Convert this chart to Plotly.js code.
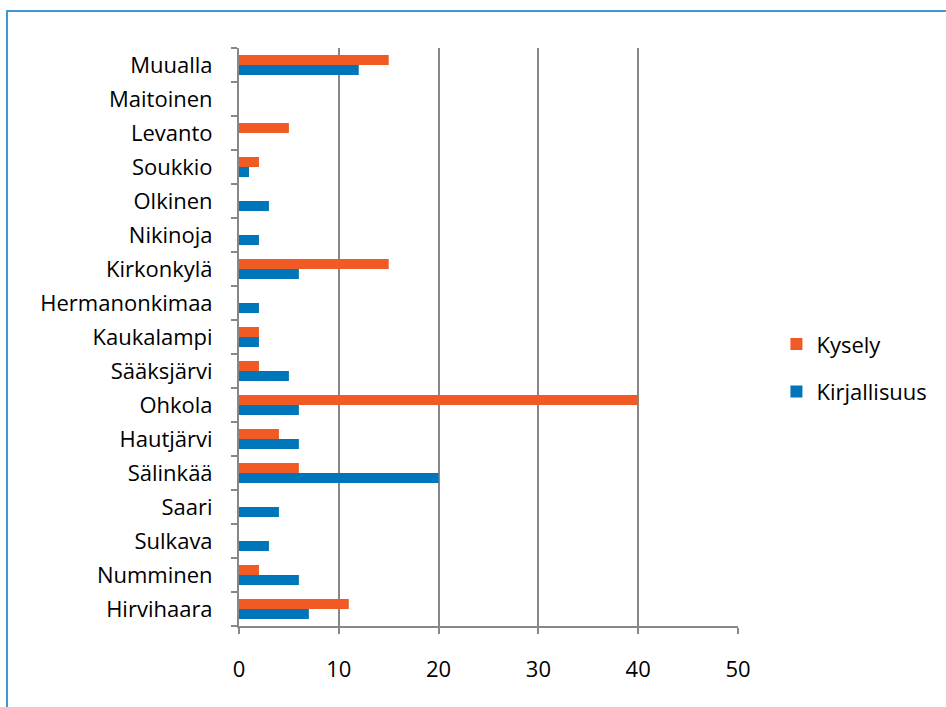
<!DOCTYPE html>
<html>
<head>
<meta charset="utf-8">
<script src="https://cdn.plot.ly/plotly-3.0.1.min.js"></script>
<style>
  html, body { margin: 0; padding: 0; background: #fff; }
  #wrap { position: relative; width: 946px; height: 707px; }
  #chart { position: absolute; left: 0; top: 0; width: 946px; height: 707px; }
  #frame { position: absolute; left: 6px; top: 10px; width: 960px; height: 720px;
           border-top: 2px solid #3d98d3; border-left: 2px solid #3d98d3; pointer-events: none; }
</style>
</head>
<body>
<div id="wrap">
  <div id="chart"></div>
  <div id="frame"></div>
</div>
<script>
const categories = ["Hirvihaara", "Numminen", "Sulkava", "Saari", "Sälinkää", "Hautjärvi", "Ohkola",
  "Sääksjärvi", "Kaukalampi", "Hermanonkimaa", "Kirkonkylä", "Nikinoja", "Olkinen", "Soukkio",
  "Levanto", "Maitoinen", "Muualla"];
const kysely =       [11, 2, 0, 0, 6, 4, 40, 2, 2, 0, 15, 0, 0, 2, 5, 0, 15];
const kirjallisuus = [7, 6, 3, 4, 20, 6, 6, 5, 2, 2, 6, 2, 3, 1, 0, 0, 12];
const xTicks = [0, 10, 20, 30, 40, 50];

const fontFam = "'Open Sans', Lato, sans-serif";

const traces = [
  { type: 'bar', orientation: 'h', name: 'Kirjallisuus', y: categories, x: kirjallisuus,
    marker: { color: '#0076ba' }, legendgroup: 'b', legendrank: 2, hoverinfo: 'x+y' },
  { type: 'bar', orientation: 'h', name: 'Kysely', y: categories, x: kysely,
    marker: { color: '#f15a24' }, legendgroup: 'a', legendrank: 1, hoverinfo: 'x+y' }
];

const layout = {
  width: 946, height: 707,
  margin: { l: 239, r: 208, t: 48, b: 81, pad: 0 },
  paper_bgcolor: '#ffffff', plot_bgcolor: '#ffffff',
  barmode: 'group', bargap: 0.41, bargroupgap: 0,
  font: { family: fontFam, size: 22, color: '#000' },
  showlegend: true,
  legend: { x: 1.077, xanchor: 'left', y: 0.446, yanchor: 'middle',
            traceorder: 'grouped', tracegroupgap: 16,
            font: { family: fontFam, size: 22, color: '#000' } },
  xaxis: {
    range: [0, 50], tickvals: xTicks, ticktext: xTicks.map(String),
    showgrid: true, gridcolor: '#878787', gridwidth: 2,
    zeroline: false, showline: true, linecolor: '#878787', linewidth: 2,
    ticks: 'outside', ticklen: 6, tickwidth: 2, tickcolor: '#878787',
    ticklabelstandoff: 17, fixedrange: true,
    tickfont: { family: fontFam, size: 22, color: '#000' }
  },
  yaxis: {
    type: 'category', categoryorder: 'array', categoryarray: categories,
    showline: true, linecolor: '#878787', linewidth: 2,
    ticks: 'outside', ticklen: 6, tickwidth: 2, tickcolor: '#878787',
    tickson: 'boundaries', showgrid: false, zeroline: false,
    ticklabelstandoff: 20, fixedrange: true,
    tickfont: { family: fontFam, size: 22, color: '#000' }
  }
};

Plotly.newPlot('chart', traces, layout, { displayModeBar: false, staticPlot: true });
</script>
</body>
</html>
